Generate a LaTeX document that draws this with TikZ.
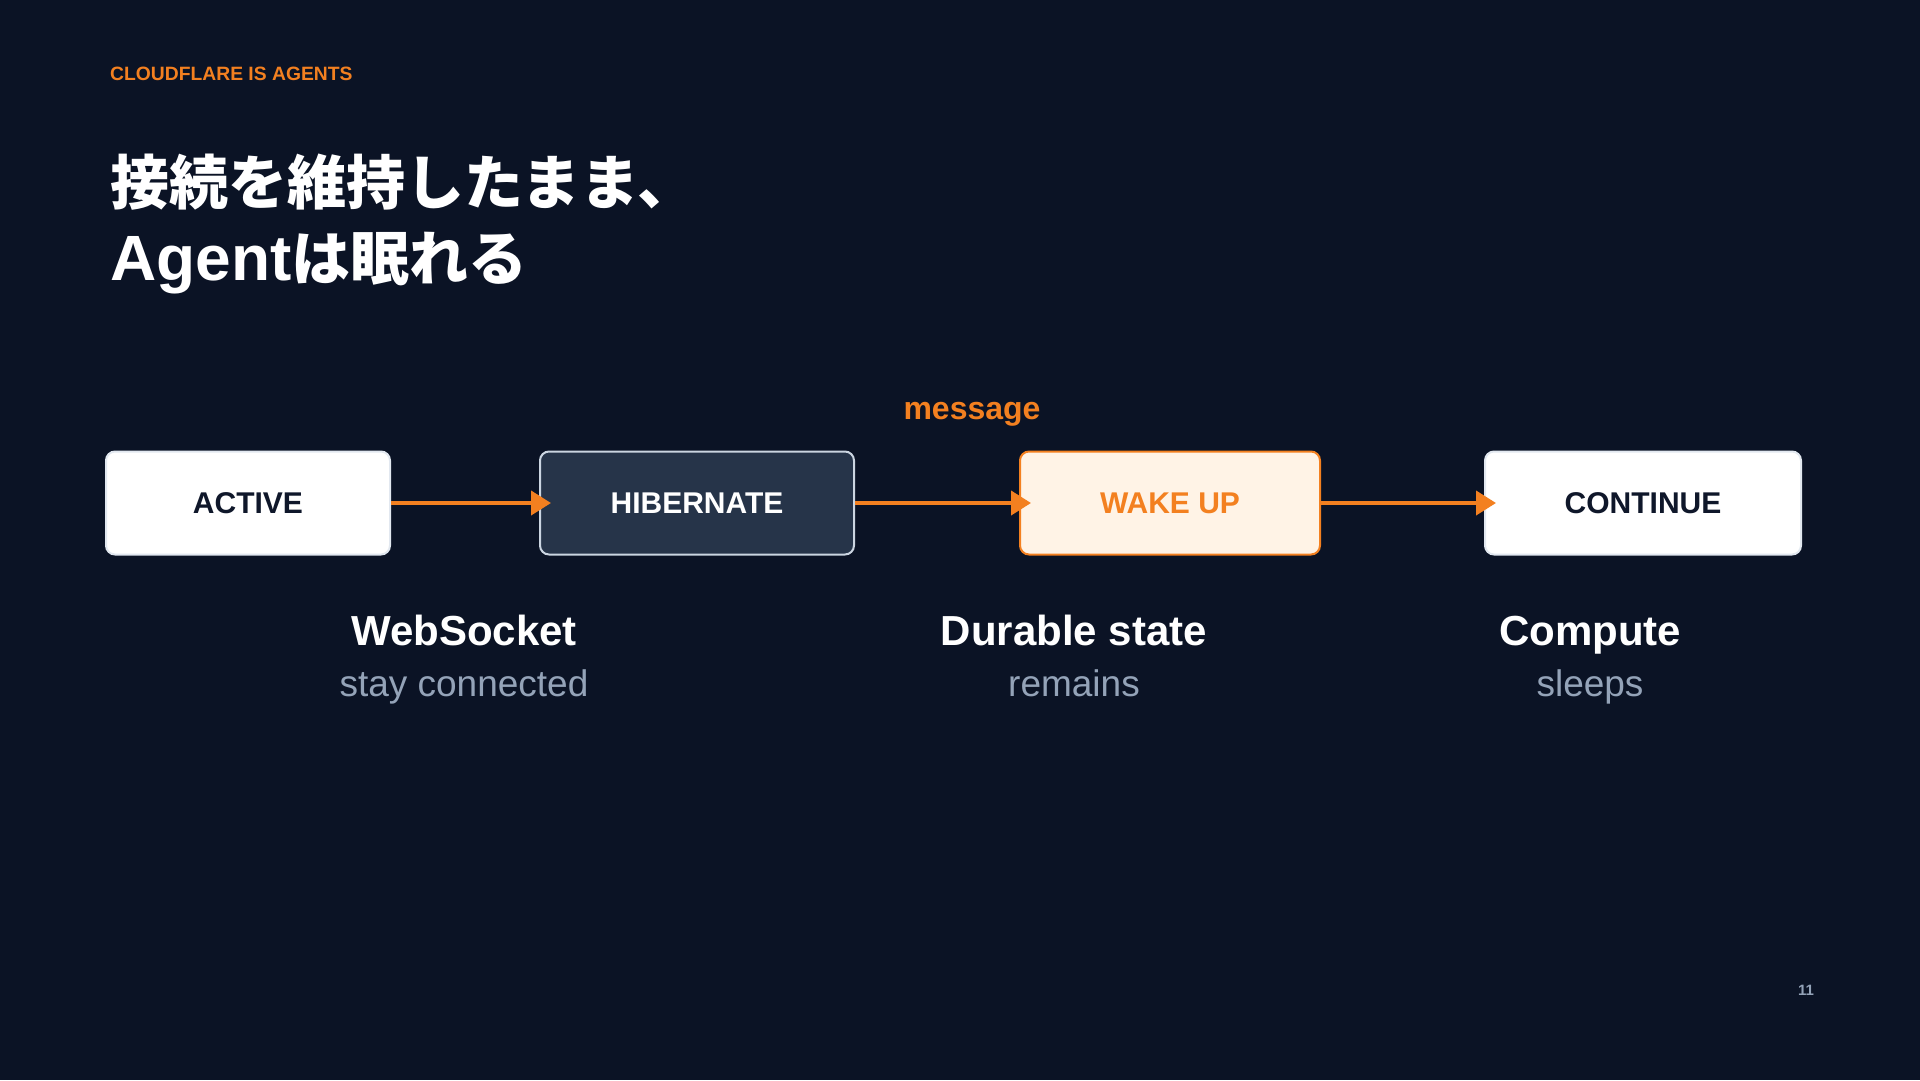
\documentclass[tikz,border=0pt]{standalone}
\usepackage{fontspec}
\setmainfont{Liberation Sans}
\newfontfamily\cjk{Noto Sans CJK JP}
\usetikzlibrary{arrows.meta}
\usetikzlibrary{positioning}

\definecolor{bg}{HTML}{0B1325}
\definecolor{cforange}{HTML}{F38020}
\definecolor{ink}{HTML}{0F172A}
\definecolor{subgray}{HTML}{94A3B8}
\definecolor{slatebox}{HTML}{263449}
\definecolor{slateline}{HTML}{CBD5E1}
\definecolor{paleline}{HTML}{E2E8F0}
\definecolor{wakefill}{HTML}{FFF3E6}

\begin{document}
\begin{tikzpicture}
[x=1pt,y=-1pt,%
  box/.style={draw,rounded corners=9pt,line width=2pt,minimum height=103pt,inner sep=0pt,%
    font=\fontsize{30}{36}\selectfont\bfseries},%
  flow/.style={line width=4pt,cforange,-{Triangle[length=20pt,width=24pt]},shorten >=-12pt},%
  head/.style={anchor=base,inner sep=0pt,text=white,font=\fontsize{42}{50}\selectfont\bfseries},%
  note/.style={anchor=base,inner sep=0pt,text=subgray,font=\fontsize{37}{44}\selectfont},%
  title/.style={anchor=base west,inner sep=0pt,text=white,font=\fontsize{64}{76}\selectfont\bfseries}]
\fill[bg] (0,0) rectangle (1920,1080);
\node[anchor=base west,inner sep=0pt,text=cforange,font=\fontsize{19.3}{23}\selectfont\bfseries]
  (kicker) at (110,80) {CLOUDFLARE IS AGENTS};
\node[title] (title1) at (110,204) {\cjk\fontsize{59}{76}\selectfont 接続を維持したまま、};
\node[title] (title2) at (110,280) {Agent{\cjk\fontsize{59}{76}\selectfont は眠れる}};
\node[box,draw=paleline,fill=white,text=ink,minimum width=284pt] (active) at (248,503) {ACTIVE};
\node[box,draw=slateline,fill=slatebox,text=white,minimum width=314pt,right=148pt of active]
  (hibernate) {HIBERNATE};
\node[box,draw=cforange,fill=wakefill,text=cforange,minimum width=300pt,right=164pt of hibernate]
  (wake) {WAKE UP};
\node[box,draw=paleline,fill=white,text=ink,minimum width=316pt,right=163pt of wake]
  (continue) {CONTINUE};
\node[anchor=base,inner sep=0pt,text=cforange,font=\fontsize{32}{38}\selectfont\bfseries]
  (msg) at (972,419) {message};
\draw[flow] (active) -- (hibernate);
\draw[flow] (hibernate) -- (wake);
\draw[flow] (wake) -- (continue);
\node[head] (ws) at (464,645) {WebSocket};
\node[note] (wsnote) at (464,696) {stay connected};
\node[head] (durable) at (1074,645) {Durable state};
\node[note] (durablenote) at (1074,696) {remains};
\node[head] (compute) at (1590,645) {Compute};
\node[note] (computenote) at (1590,696) {sleeps};
\node[anchor=base,inner sep=0pt,text=subgray,font=\fontsize{15}{18}\selectfont\bfseries]
  (page) at (1806,995) {11};
\end{tikzpicture}
\end{document}
